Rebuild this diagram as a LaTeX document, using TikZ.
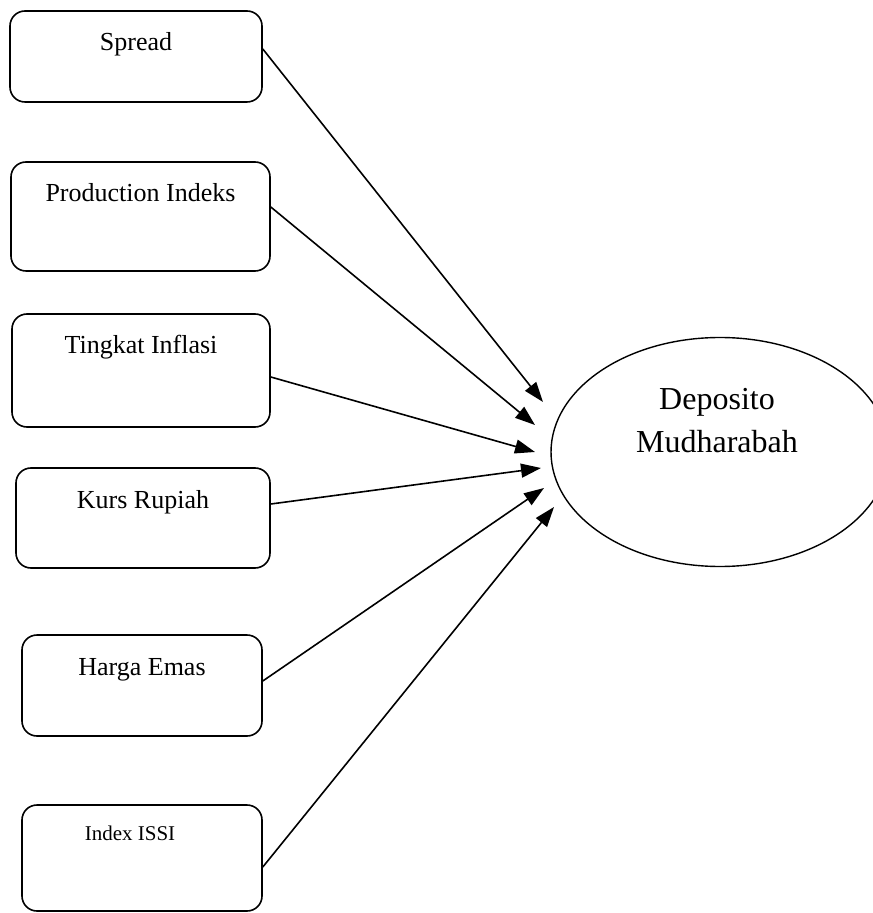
\documentclass[tikz,border=0pt]{standalone}
\usepackage{fontspec}
\setmainfont{Liberation Serif}
\usetikzlibrary{positioning,arrows.meta,shapes.geometric,calc}

\begin{document}
\begin{tikzpicture}[
  x=0.5pt, y=-0.5pt,
  bx/.style={draw, line width=0.8pt, rounded corners=7.5pt, inner xsep=0pt,
             inner ysep=10pt, text height=10pt, font=\fontsize{13}{15}\selectfont},
  ar/.style={-{Triangle[length=10pt,width=7pt]}, line width=0.8pt},
  ov/.style={ellipse, draw, line width=0.7pt, minimum width=169pt,
             minimum height=114.5pt},
  lb/.style={font=\fontsize{16}{21.5}\selectfont, align=center, inner sep=0pt}
]
\useasboundingbox (0,0) rectangle (872,913);

\node[bx, minimum width=126pt,   text depth=15.5pt] (S) at (136,56.5)   {Spread};
\node[bx, minimum width=129.5pt, text depth=24.5pt] (P) at (140.5,216.5) {Production Indeks};
\node[bx, minimum width=129pt,   text depth=26.5pt] (I) at (141,370.5)  {Tingkat Inflasi};
\node[bx, minimum width=127pt,   text depth=20pt]   (K) at (143,518)    {Kurs Rupiah};
\node[bx, minimum width=120pt,   text depth=20.5pt] (H) at (142,685.5)  {Harga Emas};
\node[bx, minimum width=120pt, text height=7.5pt, text depth=25.5pt,
      font=\fontsize{10.5}{12}\selectfont] (X) at (142,858) {Index ISSI\hspace*{12pt}};

\node[ov] (D) at (720,452) {};
\node[lb, anchor=north] (Dt) at (717,388) {Deposito\\Mudharabah};

\coordinate (t1) at (543,402);
\coordinate (t2) at (535,425);
\coordinate (t3) at (535,452);
\coordinate (t4) at (541,468);
\coordinate (t5) at (544,488);
\coordinate (t6) at (554,507);

\draw[ar] ($(S.east)+(0,-7.5)$) -- (t1);
\draw[ar] ($(P.east)+(0,-9.5)$) -- (t2);
\draw[ar] ($(I.east)+(0,6.5)$)  -- (t3);
\draw[ar] ($(K.east)+(0,-14)$)  -- (t4);
\draw[ar] ($(H.east)+(0,-4.5)$) -- (t5);
\draw[ar] ($(X.east)+(0,9)$)    -- (t6);
\end{tikzpicture}
\end{document}
